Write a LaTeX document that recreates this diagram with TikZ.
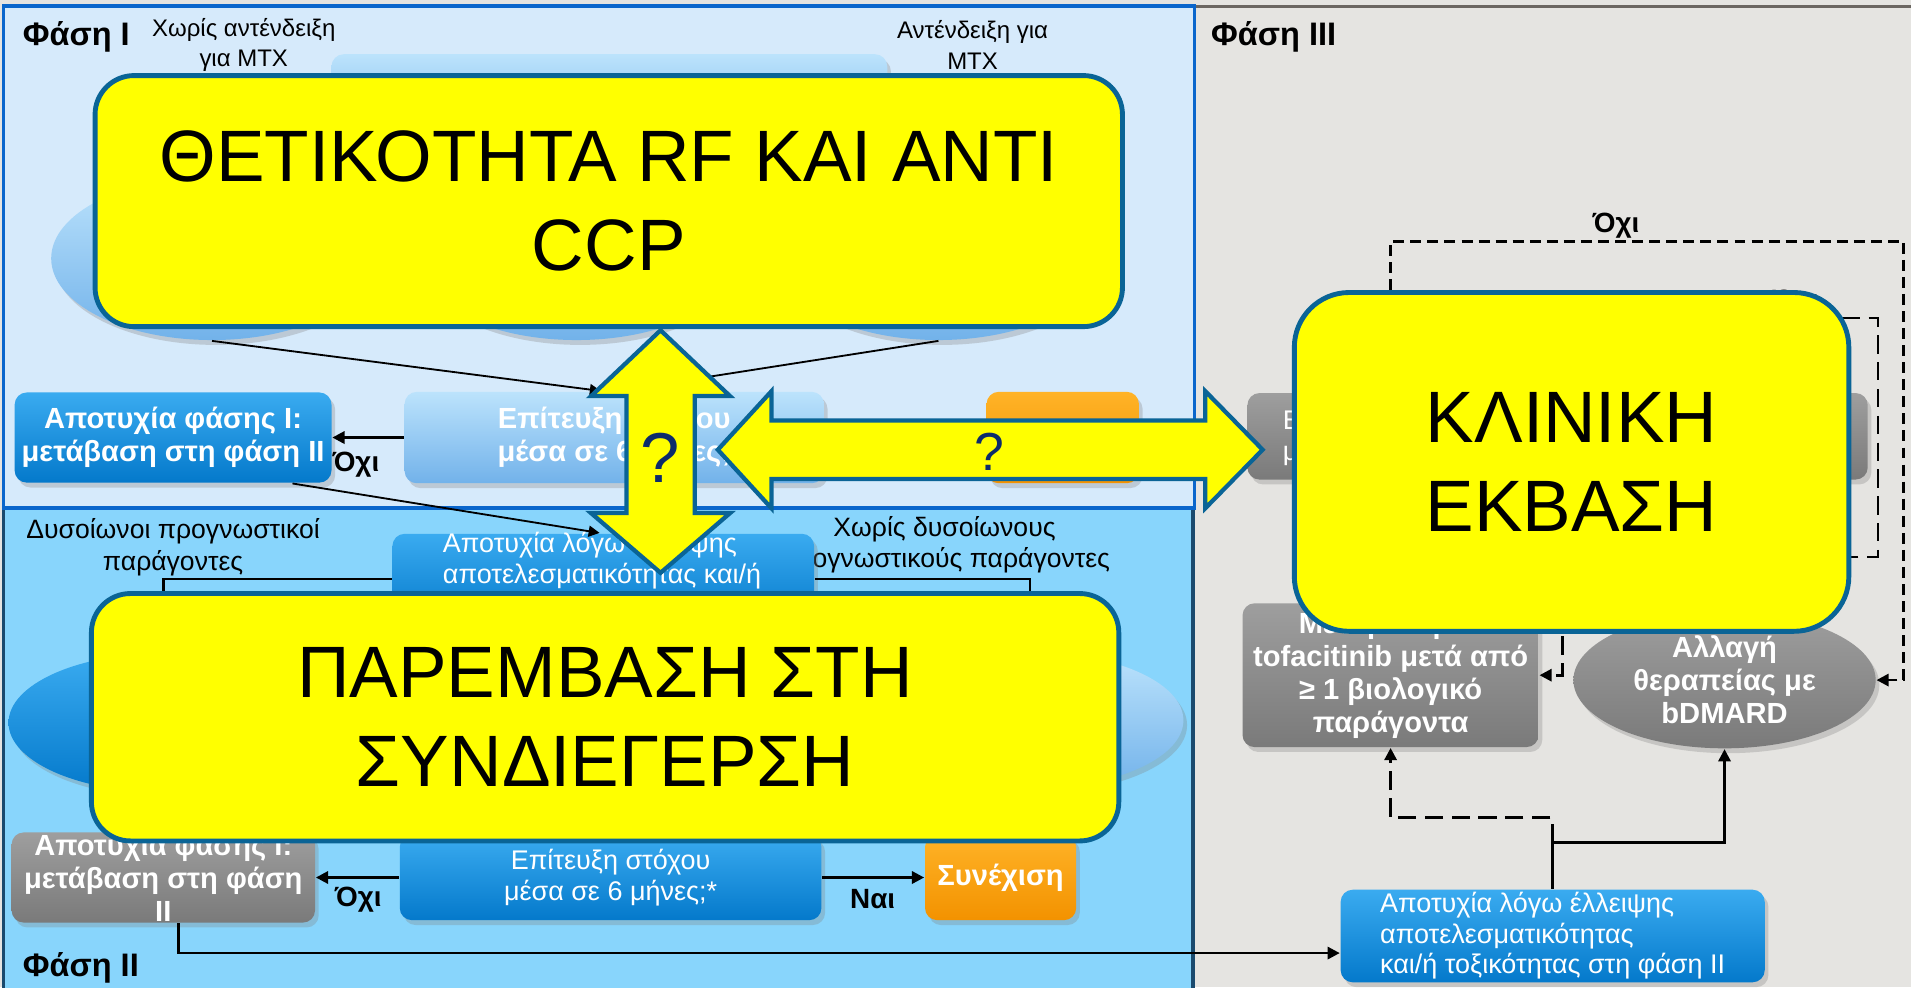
\documentclass[tikz,border=0pt]{standalone}
\usepackage{fontspec}
\setmainfont{Liberation Sans}
\usetikzlibrary{arrows.meta}
\usetikzlibrary{shapes.geometric}
\usetikzlibrary{shadows}
\usetikzlibrary{calc}

\definecolor{phaseone}{HTML}{D6EAFB}
\definecolor{phaseoneline}{HTML}{0A66CC}
\definecolor{phasetwo}{HTML}{88D5FC}
\definecolor{phasetwoline}{HTML}{1A4A6E}
\definecolor{phasethree}{HTML}{E5E4E1}
\definecolor{phasethreeline}{HTML}{6B6661}
\definecolor{blueA}{HTML}{3AABF0}
\definecolor{blueB}{HTML}{0479CB}
\definecolor{paleA}{HTML}{BCE3FC}
\definecolor{paleB}{HTML}{72B2EA}
\definecolor{greyA}{HTML}{9E9E9E}
\definecolor{greyB}{HTML}{7A7A7A}
\definecolor{orangeA}{HTML}{FFB327}
\definecolor{orangeB}{HTML}{F39200}
\definecolor{hilite}{HTML}{FFFF00}
\definecolor{hiliteline}{HTML}{0A6496}
\definecolor{qmark}{HTML}{0D2B6B}

\newcommand{\fntbig}{\fontsize{17}{20.8}\selectfont}
\newcommand{\fntphase}{\fontsize{7.6}{9}\selectfont\bfseries}
\newcommand{\fntnote}{\fontsize{5.6}{7.1}\selectfont}
\newcommand{\fntnotetwo}{\fontsize{6.2}{7.4}\selectfont}
\newcommand{\fntbold}{\fontsize{6.8}{7.7}\selectfont\bfseries}
\newcommand{\fntplain}{\fontsize{6.3}{7.1}\selectfont}
\newcommand{\fntyesno}{\fontsize{6.5}{7.5}\selectfont\bfseries}

\tikzset{
  box/.style={rectangle, rounded corners=1mm, inner sep=0pt, align=center, text=white,
    drop shadow={opacity=0.3, shadow xshift=0.3mm, shadow yshift=-0.4mm}},
  bluebox/.style={box, top color=blueA, bottom color=blueB},
  palebox/.style={box, top color=paleA, bottom color=paleB},
  greybox/.style={box, top color=greyA, bottom color=greyB},
  orangebox/.style={box, top color=orangeA, bottom color=orangeB},
  oval/.style={ellipse, inner sep=0pt, align=center, text=white,
    drop shadow={opacity=0.3, shadow xshift=0.3mm, shadow yshift=-0.4mm}},
  conn/.style={line width=0.22mm, -{Triangle[length=1mm,width=1mm]}},
  thinconn/.style={line width=0.15mm, -{Triangle[length=0.9mm,width=0.9mm]}},
  dconn/.style={conn, dash pattern=on 0.9mm off 0.5mm},
  longdash/.style={conn, dash pattern=on 1.5mm off 0.7mm},
  bigbox/.style={draw=hiliteline, fill=hilite, line width=0.4mm, inner sep=0pt,
    align=center, font=\fntbig},
  bigarrow/.style={draw=hiliteline, fill=hilite, line width=0.35mm, line join=miter},
  lbl/.style={inner sep=0pt, align=center},
  yesno/.style={inner sep=0pt, font=\fntyesno},
}

\begin{document}
\begin{tikzpicture}[x=0.1mm, y=-0.1mm]
    \useasboundingbox (0,0) rectangle (1568,810);
    \fill[phasethree] (0,0) rectangle (1568,810);
    \draw[phasethreeline, line width=0.25mm] (980,5) -- (1568,5);
    \draw[fill=phasetwo, draw=phasetwoline, line width=0.3mm] (3,417) rectangle (979,815);
    \draw[fill=phaseone, draw=phaseoneline, line width=0.3mm] (3,5) rectangle (980,417);

    \node[lbl, anchor=west, font=\fntphase] (ph1) at (18,30) {Φάση I};
    \node[lbl, anchor=west, font=\fntphase] (ph2) at (18,794) {Φάση II};
    \node[lbl, anchor=west, font=\fntphase] (ph3) at (993,30) {Φάση III};

    % phase I
    \node[lbl, font=\fntnote] (noci) at (200,37) {Χωρίς αντένδειξη\\για MTX};
    \node[lbl, font=\fntnote] (ci) at (798,37) {Αντένδειξη για\\MTX};
    \node[palebox, minimum width=45.6mm, minimum height=7.5mm] (topI) at (500,82) {};
    \node[oval, top color=paleA, bottom color=paleB, minimum width=26.4mm, minimum height=13.4mm] (ellIa) at (174,212) {};
    \node[oval, top color=paleA, bottom color=paleB, minimum width=26.4mm, minimum height=13.4mm] (ellIb) at (473,212) {};
    \node[oval, top color=paleA, bottom color=paleB, minimum width=26.4mm, minimum height=13.4mm] (ellIc) at (770,212) {};
    \node[bluebox, minimum width=26mm, minimum height=7.4mm, font=\fntbold] (failI) at (142,359) {Αποτυχία φάσης I:\\μετάβαση στη φάση II};
    \node[palebox, minimum width=34.4mm, minimum height=7.5mm, font=\fntbold] (epitI) at (504,359) {Επίτευξη στόχου\\μέσα σε 6 μήνες;};
    \node[orangebox, minimum width=12.5mm, minimum height=7.5mm] (contI) at (872,359) {};

    \draw[thinconn] (ellIa.south) -- ([xshift=-1.1mm]epitI.north);
    \draw[thinconn] (ellIc.south) -- ([xshift=0.3mm]epitI.north);
    \draw[conn] (epitI.west) -- (failI.east);
    \node[yesno] (noI) at (292,381) {Όχι};

    % phase II
    \node[lbl, font=\fntnotetwo] (poor) at (142,449) {Δυσοίωνοι προγνωστικοί\\παράγοντες};
    \node[lbl, font=\fntnotetwo] (nopoor) at (775,447) {Χωρίς δυσοίωνους\\προγνωστικούς παράγοντες};
    \node[bluebox, minimum width=34.6mm, minimum height=7.4mm] (lossII) at (495,475) {};
    \node[lbl, align=left, text=white, font=\fntplain] (lossIItxt) at (494,460) {Αποτυχία λόγω έλλειψης\\αποτελεσματικότητας και/ή};
    \draw[thinconn] ([xshift=9.8mm]failI.south) -- ([xshift=-0.3mm]lossII.north);
    \node[oval, top color=blueA, bottom color=blueB, minimum width=25.4mm, minimum height=11.4mm] (ellIIa) at (134,593) {};
    \node[oval, top color=paleA, bottom color=paleB, minimum width=25.2mm, minimum height=11.2mm] (ellIIb) at (845,591) {};
    \draw[conn] (lossII.west) -| (ellIIa.north);
    \draw[conn] (lossII.east) -| (ellIIb.north);

    \node[greybox, minimum width=24.9mm, minimum height=7.4mm, font=\fntbold] (failII) at (134,720) {Αποτυχία φάσης I:\\μετάβαση στη φάση\\II};
    \node[bluebox, minimum width=34.6mm, minimum height=7mm, font=\fntplain] (epitII) at (501,720) {Επίτευξη στόχου\\μέσα σε 6 μήνες;*};
    \node[orangebox, minimum width=12.4mm, minimum height=7mm, font=\fntbold] (contII) at (821,720) {Συνέχιση};
    \draw[conn] (epitII.west) -- (failII.east);
    \draw[conn] (epitII.east) -- (contII.west);
    \node[yesno] (noII) at (294,738) {Όχι};
    \node[yesno] (yesII) at (716,738) {Ναι};

    % phase III
    \node[greybox, minimum width=50.9mm, minimum height=7.1mm] (epitIII) at (1278,358) {};
    \node[lbl, anchor=west, align=left, text=white, font=\fntplain] (epitIIItxt) at (1052,359) {Επίτευξη στόχου\\μέσα σε 6 μήνες;};
    \node[greybox, minimum width=24.3mm, minimum height=11.8mm, font=\fntbold] (tofa) at (1141,554) {Μετάβαση σε\\tofacitinib μετά από\\≥ 1 βιολογικό\\παράγοντα};
    \node[oval, top color=greyA, bottom color=greyB, minimum width=24.8mm, minimum height=11.2mm, font=\fntbold] (bdmard) at (1415,558) {Αλλαγή\\θεραπείας με\\bDMARD};
    \node[bluebox, minimum width=34.8mm, minimum height=7.6mm, align=left, font=\fntplain] (lossIII) at (1274,768) {Αποτυχία λόγω έλλειψης\\αποτελεσματικότητας\\και/ή τοξικότητας στη φάση II};
    \draw[conn] ([xshift=1.25mm]failII.south) |- ([yshift=-1.4mm]lossIII.west);

    \coordinate (cornerA) at (1562,198);
    \coordinate (cornerB) at (1541,261);
    \coordinate (cornerC) at (1282,457);
    \coordinate (split) at (1274,691);
    \draw[dconn] (epitIII.north -| tofa.north) |- (cornerA) |- (bdmard.east);
    \node[yesno, anchor=south] (noIIIa) at (1326,196) {Όχι};
    \draw[longdash] ([xshift=14mm]epitIII.north) |- (cornerB) |- (cornerC) |- (tofa.east);
    \node[yesno, anchor=south] (noIIIb) at (1473,259) {Όχι};
    \draw[conn] (lossIII.north) -- (split) -| (bdmard.south);
    \draw[longdash] (split) -- ++(0,-20) -| (tofa.south);

    % overlays
    \node[bigbox, rounded corners=3.2mm, minimum width=84.3mm, minimum height=20.6mm] (rfccp) at (499.5,165) {ΘΕΤΙΚΟΤΗΤΑ RF ΚΑΙ ΑΝΤΙ\\CCP};
    \node[bigbox, rounded corners=3.2mm, minimum width=84.3mm, minimum height=20.3mm] (cosig) at (496.5,588.5) {ΠΑΡΕΜΒΑΣΗ ΣΤΗ\\ΣΥΝΔΙΕΓΕΡΣΗ};
    \node[bigbox, rounded corners=4.5mm, minimum width=45.5mm, minimum height=27.8mm] (outcome) at (1289.5,379) {ΚΛΙΝΙΚΗ\\ΕΚΒΑΣΗ};

    \filldraw[bigarrow] (542,271) -- (599,325) -- (570,325) -- (570,421) -- (599,421) -- (542,470)
        -- (485,421) -- (514,421) -- (514,325) -- (485,325) -- cycle;
    \node[lbl, text=qmark, font=\fontsize{16.5}{18}\selectfont] (qv) at (542,376) {?};
    \filldraw[bigarrow] (589,369) -- (633,321) -- (633,345) -- (989,345) -- (989,321) -- (1036,369)
        -- (989,417) -- (989,393) -- (633,393) -- (633,417) -- cycle;
    \node[lbl, text=qmark, font=\fontsize{12.5}{14}\selectfont] (qh) at (812,371) {?};
\end{tikzpicture}
\end{document}
